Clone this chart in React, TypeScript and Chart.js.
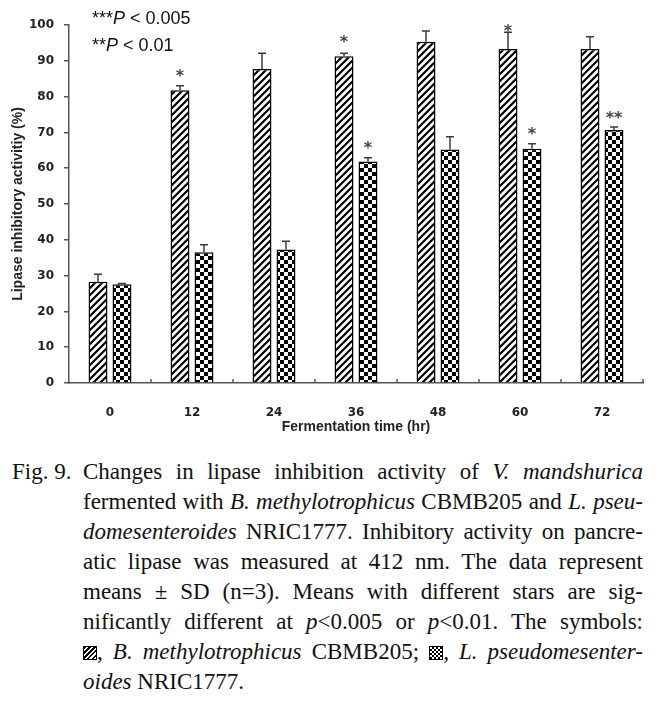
import React, { useEffect, useRef } from "react";
import { Chart, registerables } from "chart.js";

Chart.register(...registerables);

const categories = ["0", "12", "24", "36", "48", "60", "72"];
const bmValues = [28.3, 81.8, 87.7, 91.3, 95.3, 93.3, 93.3];
const bmSD = [2.1, 1.2, 4.4, 0.8, 3.0, 4.7, 3.4];
const lpValues = [27.6, 36.5, 37.3, 61.9, 65.2, 65.4, 70.7];
const lpSD = [0.2, 2.1, 2.3, 1.0, 3.6, 1.4, 0.8];
const bmStars = ["", "*", "", "*", "", "*", ""];
const bmStarLevels = [null, 86.9, null, 96.5, null, 99.5, null];
const lpStars = ["", "", "", "*", "", "*", "**"];
const lpStarLevels = [null, null, null, 67.0, null, 70.7, 75.4];
const yMin = 0;
const yMax = 100;
const yStep = 10;
const xTitle = "Fermentation time (hr)";
const yTitle = "Lipase inhibitory activitiy (%)";

function makeHatch(ctx: CanvasRenderingContext2D) {
  const s = 7;
  const c = document.createElement("canvas");
  c.width = s;
  c.height = s;
  const g = c.getContext("2d")!;
  g.fillStyle = "#fff";
  g.fillRect(0, 0, s, s);
  g.strokeStyle = "#000";
  g.lineWidth = 2.2;
  g.beginPath();
  for (let k = -1; k <= 1; k++) {
    g.moveTo(k * s - 1, s + 1);
    g.lineTo(k * s + s + 1, -1);
  }
  g.stroke();
  return ctx.createPattern(c, "repeat")!;
}

function makeChecker(ctx: CanvasRenderingContext2D) {
  const q = 4;
  const c = document.createElement("canvas");
  c.width = q * 2;
  c.height = q * 2;
  const g = c.getContext("2d")!;
  g.fillStyle = "#fff";
  g.fillRect(0, 0, q * 2, q * 2);
  g.fillStyle = "#000";
  g.fillRect(0, 0, q, q);
  g.fillRect(q, q, q, q);
  return ctx.createPattern(c, "repeat")!;
}

const sdList = [bmSD, lpSD];
const starList = [bmStars, lpStars];
const starLevelList = [bmStarLevels, lpStarLevels];

const extrasPlugin = {
  id: "extras",
  afterDatasetsDraw(chart: any) {
    const ctx = chart.ctx as CanvasRenderingContext2D;
    const y = chart.scales.y;
    const x = chart.scales.x;
    ctx.save();
    chart.data.datasets.forEach((ds: any, di: number) => {
      const meta = chart.getDatasetMeta(di);
      meta.data.forEach((bar: any, i: number) => {
        const v = ds.data[i];
        const top = y.getPixelForValue(v + sdList[di][i]);
        const base = y.getPixelForValue(v);
        ctx.strokeStyle = "#3a3a3a";
        ctx.lineWidth = 1.5;
        ctx.beginPath();
        ctx.moveTo(bar.x, base);
        ctx.lineTo(bar.x, top);
        ctx.moveTo(bar.x - 4, top);
        ctx.lineTo(bar.x + 4, top);
        ctx.stroke();
        const st = starList[di][i];
        const lv = starLevelList[di][i];
        if (st && lv != null) {
          ctx.fillStyle = "#444";
          ctx.font = 'bold 16px "DejaVu Sans"';
          ctx.textAlign = "center";
          ctx.textBaseline = "alphabetic";
          ctx.fillText(st, bar.x, y.getPixelForValue(lv) + 9.5);
        }
      });
    });
    const n = chart.data.labels.length;
    const step = x.getPixelForValue(1) - x.getPixelForValue(0);
    ctx.strokeStyle = "#555";
    ctx.lineWidth = 1.5;
    ctx.beginPath();
    for (let i = 1; i <= n; i++) {
      const px = x.getPixelForValue(i - 1) + step / 2;
      ctx.moveTo(px, y.bottom);
      ctx.lineTo(px, y.bottom - 4);
    }
    ctx.stroke();
    ctx.restore();
  },
};

export default function App() {
  const ref = useRef<HTMLCanvasElement | null>(null);
  useEffect(() => {
    document.body.style.margin = "0";
    const canvas = ref.current!;
    const ctx = canvas.getContext("2d")!;
    const hatch = makeHatch(ctx);
    const checker = makeChecker(ctx);
    const chart = new Chart(ctx, {
      type: "bar",
      data: {
        labels: categories,
        datasets: [
          {
            label: "B. methylotrophicus CBMB205",
            data: bmValues,
            backgroundColor: hatch as any,
            borderColor: "#000",
            borderWidth: 1.5,
            categoryPercentage: 0.585,
            barPercentage: 0.79,
          },
          {
            label: "L. pseudomesenteroides NRIC1777",
            data: lpValues,
            backgroundColor: checker as any,
            borderColor: "#000",
            borderWidth: 1.5,
            categoryPercentage: 0.585,
            barPercentage: 0.79,
          },
        ],
      },
      options: {
        animation: false,
        responsive: false,
        events: [],
        layout: { padding: { top: 25, right: 22, left: 0, bottom: 0 } },
        plugins: {
          legend: { display: false },
          tooltip: { enabled: false },
          title: { display: false },
        },
        scales: {
          x: {
            type: "category",
            offset: true,
            grid: { display: false },
            border: { display: true, color: "#555", width: 1.5 },
            ticks: {
              color: "#222",
              font: { family: '"DejaVu Sans"', weight: "bold", size: 12 },
              padding: 15,
              maxRotation: 0,
            },
            title: {
              display: true,
              text: xTitle,
              color: "#222",
              font: { family: '"Liberation Sans"', weight: "bold", size: 14 },
              padding: { top: 0, bottom: 9.5 },
            },
            afterFit(scale: any) {
              scale.height = 62;
            },
          },
          y: {
            min: yMin,
            max: yMax,
            grid: {
              display: true,
              drawOnChartArea: false,
              drawTicks: true,
              tickLength: 5,
              color: "#555",
              lineWidth: 1.5,
            },
            border: { display: true, color: "#555", width: 1.5 },
            ticks: {
              stepSize: yStep,
              color: "#222",
              font: { family: '"DejaVu Sans"', weight: "bold", size: 12 },
              padding: 10,
            },
            title: {
              display: true,
              text: yTitle,
              color: "#222",
              font: { family: '"Liberation Sans"', weight: "bold", size: 14 },
              padding: { top: 9.5, bottom: 0 },
            },
            afterFit(scale: any) {
              scale.width = 69;
            },
          },
        },
      },
      plugins: [extrasPlugin],
    });
    return () => chart.destroy();
  }, []);

  const just: React.CSSProperties = {
    textAlign: "justify",
    textAlignLast: "justify",
    whiteSpace: "nowrap",
  };
  const iconBase: React.CSSProperties = {
    display: "inline-block",
    width: 12,
    height: 12,
    border: "1px solid #000",
    verticalAlign: "-1px",
  };

  return (
    <div style={{ width: 665, background: "#fff" }}>
      <div style={{ position: "relative", width: 665, height: 445 }}>
        <canvas ref={ref} width={665} height={445} style={{ display: "block" }} />
        <div
          style={{
            position: "absolute",
            left: 92,
            top: 5,
            fontFamily: '"Liberation Sans", Arial, sans-serif',
            fontSize: 18,
            lineHeight: "27px",
            color: "#111",
            whiteSpace: "nowrap",
          }}
        >
          <div>
            ***<i>P</i> &lt; 0.005
          </div>
          <div>
            **<i>P</i> &lt; 0.01
          </div>
        </div>
      </div>
      <div
        style={{
          display: "flex",
          marginTop: 12,
          fontFamily: '"Liberation Serif", serif',
          fontSize: 23,
          lineHeight: "30px",
          color: "#111",
        }}
      >
        <div style={{ width: 71, paddingLeft: 12, flexShrink: 0, whiteSpace: "nowrap" }}>Fig. 9.</div>
        <div style={{ width: 560 }}>
          <div style={just}>
            Changes in lipase inhibition activity of <i>V. mandshurica</i>
          </div>
          <div style={just}>
            fermented with <i>B. methylotrophicus</i> CBMB205 and <i>L. pseu-</i>
          </div>
          <div style={just}>
            <i>domesenteroides</i> NRIC1777. Inhibitory activity on pancre-
          </div>
          <div style={just}>atic lipase was measured at 412 nm. The data represent</div>
          <div style={just}>means ± SD (n=3). Means with different stars are sig-</div>
          <div style={just}>
            nificantly different at <i>p</i>&lt;0.005 or <i>p</i>&lt;0.01. The symbols:
          </div>
          <div style={just}>
            <span
              style={{
                ...iconBase,
                background:
                  "repeating-linear-gradient(135deg, #000 0 1.5px, #fff 1.5px 3.5px)",
              }}
            />
            <i>, B. methylotrophicus</i> CBMB205;{" "}
            <span
              style={{
                ...iconBase,
                background:
                  "conic-gradient(#000 25%, #fff 0 50%, #000 0 75%, #fff 0) 0 0 / 4px 4px",
              }}
            />
            <i>, L. pseudomesenter-</i>
          </div>
          <div style={{ whiteSpace: "nowrap" }}>
            <i>oides</i> NRIC1777.
          </div>
        </div>
      </div>
    </div>
  );
}
